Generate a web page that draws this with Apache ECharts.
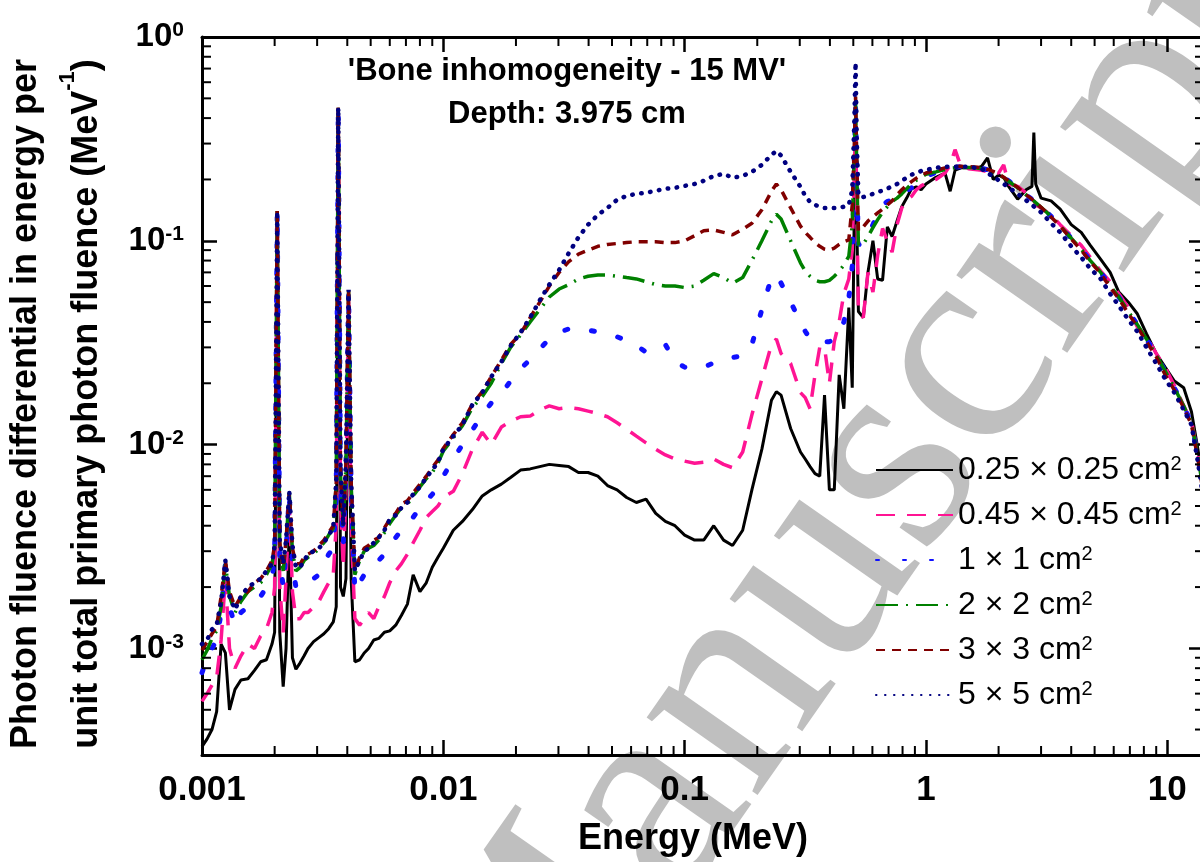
<!DOCTYPE html>
<html>
<head>
<meta charset="utf-8">
<title>Photon fluence spectra – bone inhomogeneity, 15 MV</title>
<script src="https://cdn.jsdelivr.net/npm/echarts@6/dist/echarts.min.js"></script>
<style>
  html, body { margin: 0; padding: 0; background: #ffffff; }
  #chart { width: 1200px; height: 862px; }
</style>
</head>
<body>
<div id="chart"></div>
<script>
const FONT = '"Liberation Sans", Arial, Helvetica, sans-serif';
const SERIF = '"Liberation Serif", "Times New Roman", serif';

// Axis ranges (MeV, MeV^-1)
const X_MIN = 0.001, X_MAX = 14.2;
const Y_MIN = 3e-4, Y_MAX = 1;

// Tick labels for the decades
const xTickLabels = ['0.001', '0.01', '0.1', '1', '10'];        // 10^-3 .. 10^1
const yTickExponents = ['-3', '-2', '-1', '0'];                  // 10^-3 .. 10^0

// Field sizes (legend entries)
const fieldSizes = ['0.25 × 0.25 cm²', '0.45 × 0.45 cm²', '1 × 1 cm²', '2 × 2 cm²', '3 × 3 cm²', '5 × 5 cm²'];

// Energy bin centres (MeV), shared by all field sizes
const energy = [
  0.00100, 0.00105, 0.00110, 0.00115, 0.00120, 0.00125, 0.00130, 0.00137, 0.00145, 0.00155,
  0.00165, 0.00175, 0.00185, 0.00195, 0.00200, 0.00205, 0.00210, 0.00217, 0.00223, 0.00230,
  0.00237, 0.00245, 0.00255, 0.00265, 0.00275, 0.00290, 0.00305, 0.00320, 0.00335, 0.00350,
  0.00360, 0.00367, 0.00375, 0.00385, 0.00395, 0.00405, 0.00415, 0.00430, 0.00450, 0.00470,
  0.00490, 0.00515, 0.00540, 0.00570, 0.00600, 0.00635, 0.00670, 0.00710, 0.00750, 0.00800,
  0.00850, 0.00900, 0.00950, 0.0100, 0.0110, 0.0120, 0.0132, 0.0145, 0.0158, 0.0174,
  0.0190, 0.0209, 0.0229, 0.0251, 0.0275, 0.0302, 0.0331, 0.0363, 0.0398, 0.0437,
  0.0479, 0.0525, 0.0575, 0.0631, 0.0692, 0.0759, 0.0832, 0.0912, 0.100, 0.110,
  0.120, 0.132, 0.145, 0.158, 0.174, 0.190, 0.209, 0.229, 0.240, 0.251,
  0.275, 0.302,
  0.316, 0.331, 0.347, 0.363, 0.380, 0.398, 0.417, 0.437, 0.457, 0.479,
  0.495, 0.505, 0.511, 0.517, 0.525, 0.550, 0.575, 0.603, 0.631, 0.661,
  0.692, 0.724, 0.759, 0.794, 0.832, 0.871, 0.912, 0.955, 1.00, 1.10,
  1.20, 1.26, 1.32, 1.40, 1.50, 1.60, 1.70, 1.80, 1.90, 2.00,
  2.10, 2.20, 2.40, 2.60, 2.75, 2.80, 2.85, 3.00, 3.30, 3.60,
  4.00, 4.40, 4.80, 5.30, 5.80, 6.30, 6.90, 7.50, 8.20, 9.00,
  9.80, 10.7, 11.7, 12.6, 13.4, 14.2, 15.0
];

// Fluence per field size (MeV^-1 per unit primary fluence)
const field025 = [
  0.00033, 0.00036, 0.00040, 0.00049, 0.00105, 0.00095, 0.00050, 0.00063, 0.00070, 0.00071,
  0.00078, 0.00086, 0.00088, 0.00105, 0.0012, 0.12, 0.0012, 0.00065, 0.0010, 0.0040,
  0.00090, 0.00079, 0.00085, 0.00092, 0.00100, 0.00108, 0.00113, 0.00118, 0.00125, 0.00135,
  0.0016, 0.40, 0.0020, 0.0018, 0.0022, 0.050, 0.0022, 0.00086, 0.00088, 0.00095,
  0.0010, 0.00110, 0.00112, 0.00120, 0.00122, 0.00130, 0.00145, 0.00165, 0.0023, 0.0019,
  0.0021, 0.0025, 0.0028, 0.0031, 0.0038, 0.0042, 0.0048, 0.0056, 0.0060, 0.0064,
  0.0069, 0.0075, 0.0076, 0.0078, 0.0080, 0.0079, 0.0078, 0.0073, 0.0073, 0.0070,
  0.0063, 0.0060, 0.0055, 0.0052, 0.0054, 0.0046, 0.0042, 0.0040, 0.0036, 0.0034,
  0.0034, 0.0040, 0.0034, 0.0032, 0.0038, 0.0060, 0.0095, 0.0165, 0.0182, 0.0175,
  0.0120, 0.0092,
  0.0085, 0.0078, 0.0072, 0.0070, 0.0175, 0.0060, 0.0060, 0.0220, 0.0150, 0.0470,
  0.0190, 0.15, 0.35, 0.12, 0.045, 0.042, 0.070, 0.100, 0.065, 0.064,
  0.117, 0.105, 0.125, 0.147, 0.162, 0.180, 0.184, 0.178, 0.190, 0.205,
  0.215, 0.175, 0.222, 0.228, 0.228, 0.225, 0.232, 0.255, 0.200, 0.210,
  0.205, 0.185, 0.160, 0.178, 0.185, 0.340, 0.190, 0.162, 0.157, 0.143,
  0.120, 0.110, 0.095, 0.081, 0.070, 0.056, 0.050, 0.044, 0.035, 0.028,
  0.024, 0.0205, 0.0190, 0.0145, 0.0095, 0.0060, 0.0028
];

const field045 = [
  0.00055, 0.00060, 0.00066, 0.00072, 0.0011, 0.0022, 0.0010, 0.00080, 0.00092, 0.00105,
  0.00100, 0.00115, 0.00125, 0.0015, 0.0020, 0.14, 0.0020, 0.0012, 0.0022, 0.0052,
  0.0019, 0.0014, 0.0014, 0.0015, 0.0015, 0.0016, 0.0017, 0.0019, 0.0021, 0.0023,
  0.0040, 0.45, 0.0050, 0.0025, 0.0060, 0.056, 0.0040, 0.0014, 0.0013, 0.0014,
  0.0015, 0.0014, 0.0016, 0.0018, 0.0021, 0.0024, 0.0026, 0.0029, 0.0033, 0.0038,
  0.0044, 0.0047, 0.0050, 0.0055, 0.0059, 0.0072, 0.0095, 0.0115, 0.0100, 0.0122,
  0.0130, 0.0137, 0.0138, 0.0148, 0.0155, 0.0150, 0.0152, 0.0150, 0.0146, 0.0142,
  0.0137, 0.0128, 0.0119, 0.0110, 0.0102, 0.0095, 0.0089, 0.0085, 0.0083, 0.0081,
  0.0082, 0.0085, 0.0080, 0.0077, 0.0092, 0.0140, 0.0210, 0.0310, 0.0330, 0.0280,
  0.0250, 0.0180,
  0.0170, 0.0150, 0.0220, 0.0300, 0.0300, 0.0200, 0.0320, 0.0400, 0.0550, 0.0650,
  0.090, 0.22, 0.40, 0.15, 0.045, 0.042, 0.070, 0.056, 0.085, 0.115,
  0.100, 0.088, 0.120, 0.145, 0.158, 0.165, 0.178, 0.186, 0.192, 0.200,
  0.215, 0.235, 0.280, 0.230, 0.226, 0.224, 0.222, 0.218, 0.220, 0.215,
  0.236, 0.190, 0.185, 0.172, 0.162, 0.158, 0.150, 0.145, 0.134, 0.120,
  0.106, 0.095, 0.083, 0.071, 0.063, 0.055, 0.047, 0.038, 0.034, 0.028,
  0.024, 0.0195, 0.0155, 0.013, 0.009, 0.0058, 0.0028
];

const field1 = [
  0.00076, 0.00090, 0.00100, 0.00110, 0.0015, 0.0026, 0.0016, 0.0013, 0.0015, 0.0016,
  0.0017, 0.0018, 0.0020, 0.0022, 0.0028, 0.14, 0.0028, 0.0020, 0.0030, 0.0057,
  0.0026, 0.0020, 0.0020, 0.0021, 0.0022, 0.0022, 0.0023, 0.0026, 0.0029, 0.0031,
  0.0055, 0.45, 0.0065, 0.0032, 0.0075, 0.057, 0.0058, 0.0019, 0.0021, 0.0023,
  0.0024, 0.0026, 0.0027, 0.0029, 0.0032, 0.0035, 0.0038, 0.0041, 0.0044, 0.0049,
  0.0053, 0.0057, 0.0062, 0.0070, 0.0085, 0.0100, 0.0118, 0.0140, 0.0160, 0.0178,
  0.0205, 0.0235, 0.0262, 0.0295, 0.0330, 0.0355, 0.0370, 0.0372, 0.0365, 0.0357,
  0.0348, 0.0338, 0.0325, 0.0305, 0.0285, 0.0295, 0.0310, 0.0255, 0.0240, 0.0236,
  0.0240, 0.0252, 0.0262, 0.0268, 0.0272, 0.031, 0.046, 0.066, 0.068, 0.062,
  0.050, 0.040,
  0.036, 0.033, 0.032, 0.032, 0.032, 0.032, 0.033, 0.036, 0.040, 0.052,
  0.075, 0.25, 0.45, 0.20, 0.095, 0.101, 0.106, 0.120, 0.135, 0.150,
  0.156, 0.158, 0.160, 0.168, 0.176, 0.182, 0.192, 0.202, 0.208, 0.216,
  0.225, 0.228, 0.230, 0.231, 0.230, 0.229, 0.227, 0.223, 0.218, 0.212,
  0.205, 0.197, 0.183, 0.168, 0.160, 0.156, 0.154, 0.147, 0.132, 0.118,
  0.103, 0.091, 0.080, 0.070, 0.060, 0.053, 0.045, 0.039, 0.033, 0.0275,
  0.023, 0.019, 0.0155, 0.0127, 0.0087, 0.0056, 0.0027
];

const field2 = [
  0.00088, 0.00098, 0.00112, 0.00122, 0.0016, 0.0026, 0.0018, 0.0015, 0.0017, 0.0019,
  0.0020, 0.0021, 0.0023, 0.0026, 0.0031, 0.14, 0.0032, 0.0024, 0.0033, 0.0058,
  0.0030, 0.0024, 0.0025, 0.0027, 0.0028, 0.0029, 0.0031, 0.0033, 0.0036, 0.0039,
  0.0064, 0.45, 0.0071, 0.0040, 0.0080, 0.057, 0.0064, 0.0023, 0.0027, 0.0030,
  0.0031, 0.0032, 0.0034, 0.0037, 0.0041, 0.0045, 0.0049, 0.0051, 0.0056, 0.0062,
  0.0068, 0.0073, 0.0081, 0.0093, 0.0108, 0.0124, 0.0152, 0.0172, 0.0200, 0.0250,
  0.0300, 0.0345, 0.040, 0.046, 0.053, 0.058, 0.061, 0.065, 0.067, 0.068,
  0.068, 0.067, 0.066, 0.065, 0.063, 0.061, 0.060, 0.060, 0.059, 0.060,
  0.064, 0.069, 0.066, 0.062, 0.066, 0.080, 0.100, 0.125, 0.135, 0.128,
  0.100, 0.078,
  0.071, 0.067, 0.064, 0.063, 0.063, 0.064, 0.067, 0.071, 0.076, 0.084,
  0.12, 0.28, 0.48, 0.22, 0.095, 0.096, 0.105, 0.116, 0.127, 0.138,
  0.147, 0.156, 0.162, 0.170, 0.180, 0.190, 0.198, 0.205, 0.212, 0.218,
  0.224, 0.227, 0.228, 0.229, 0.229, 0.228, 0.226, 0.222, 0.218, 0.212,
  0.204, 0.196, 0.182, 0.168, 0.160, 0.157, 0.154, 0.146, 0.132, 0.118,
  0.103, 0.091, 0.080, 0.070, 0.060, 0.053, 0.045, 0.039, 0.033, 0.0275,
  0.023, 0.019, 0.0155, 0.0128, 0.0088, 0.0056, 0.0027
];

const field3 = [
  0.00098, 0.00108, 0.00118, 0.00128, 0.0018, 0.0027, 0.0019, 0.0016, 0.0018, 0.0019,
  0.0021, 0.0022, 0.0024, 0.0027, 0.0032, 0.14, 0.0033, 0.0025, 0.0034, 0.0058,
  0.0031, 0.0026, 0.0026, 0.0028, 0.0029, 0.0030, 0.0032, 0.0034, 0.0037, 0.0040,
  0.0065, 0.45, 0.0072, 0.0041, 0.0082, 0.057, 0.0066, 0.0024, 0.0028, 0.0031,
  0.0032, 0.0034, 0.0035, 0.0039, 0.0043, 0.0046, 0.0051, 0.0053, 0.0058, 0.0064,
  0.0070, 0.0077, 0.0084, 0.0096, 0.0112, 0.0128, 0.0158, 0.0182, 0.0215, 0.026,
  0.031, 0.035, 0.042, 0.050, 0.060, 0.070, 0.079, 0.086, 0.090, 0.094,
  0.096, 0.097, 0.098, 0.099, 0.099, 0.099, 0.098, 0.098, 0.100, 0.106,
  0.112, 0.113, 0.110, 0.107, 0.114, 0.122, 0.142, 0.175, 0.190, 0.178,
  0.145, 0.118,
  0.110, 0.104, 0.098, 0.094, 0.091, 0.090, 0.092, 0.096, 0.099, 0.101,
  0.15, 0.30, 0.51, 0.25, 0.112, 0.117, 0.125, 0.131, 0.137, 0.143,
  0.150, 0.157, 0.168, 0.178, 0.187, 0.195, 0.203, 0.210, 0.215, 0.222,
  0.228, 0.230, 0.231, 0.232, 0.231, 0.230, 0.228, 0.224, 0.219, 0.213,
  0.205, 0.197, 0.183, 0.168, 0.160, 0.157, 0.154, 0.146, 0.131, 0.118,
  0.102, 0.090, 0.079, 0.069, 0.059, 0.052, 0.044, 0.038, 0.032, 0.027,
  0.022, 0.0185, 0.0152, 0.0125, 0.0085, 0.0055, 0.0026
];

const field5 = [
  0.00105, 0.0011, 0.00124, 0.0013, 0.0017, 0.0027, 0.0018, 0.00155, 0.0018, 0.0020,
  0.0021, 0.0022, 0.0024, 0.0026, 0.0032, 0.14, 0.0034, 0.0026, 0.0034, 0.0059,
  0.0032, 0.0025, 0.0025, 0.0027, 0.0029, 0.0030, 0.0031, 0.0033, 0.0036, 0.0039,
  0.0067, 0.45, 0.0075, 0.0040, 0.0084, 0.0575, 0.0067, 0.0024, 0.0027, 0.0030,
  0.0031, 0.0033, 0.0035, 0.0038, 0.0043, 0.0045, 0.0049, 0.0052, 0.0057, 0.0062,
  0.0069, 0.0075, 0.0082, 0.0095, 0.011, 0.0125, 0.0157, 0.018, 0.0215, 0.0255,
  0.0305, 0.0355, 0.042, 0.051, 0.061, 0.072, 0.087, 0.104, 0.12, 0.134,
  0.145, 0.159, 0.166, 0.17, 0.172, 0.176, 0.18, 0.182, 0.186, 0.19,
  0.197, 0.208, 0.213, 0.204, 0.208, 0.218, 0.236, 0.264, 0.276, 0.262,
  0.218, 0.184,
  0.166, 0.155, 0.150, 0.147, 0.145, 0.145, 0.145, 0.145, 0.147, 0.150,
  0.178, 0.39, 0.75, 0.31, 0.166, 0.164, 0.166, 0.170, 0.174, 0.176,
  0.180, 0.186, 0.190, 0.197, 0.204, 0.211, 0.215, 0.220, 0.223, 0.228,
  0.231, 0.231, 0.231, 0.231, 0.231, 0.228, 0.226, 0.215, 0.207, 0.198,
  0.190, 0.183, 0.170, 0.158, 0.150, 0.147, 0.145, 0.138, 0.122, 0.110,
  0.094, 0.083, 0.073, 0.065, 0.055, 0.048, 0.041, 0.036, 0.030, 0.025,
  0.021, 0.018, 0.0148, 0.0125, 0.0082, 0.0052, 0.0025
];

const fieldValues = [field025, field045, field1, field2, field3, field5];

// Line appearance per field size
const lineStyles = [
  { color: '#000000', width: 3, type: 'solid' },
  { color: '#ff1493', width: 3.5, type: [19, 12] },
  { color: '#1010ff', width: 5, type: [3, 24], cap: 'round' },
  { color: '#008000', width: 3.5, type: [22, 8, 2, 8] },
  { color: '#800000', width: 3.5, type: [9, 7] },
  { color: '#000080', width: 4.5, type: [0.5, 8.5], cap: 'round' }
];

// Minor tick positions for the log axes (2..9 within each decade)
function minorTicks(lo, hi) {
  const out = [];
  for (let e = Math.floor(Math.log10(lo)); e <= Math.ceil(Math.log10(hi)); e++) {
    for (let m = 2; m <= 9; m++) {
      const v = m * Math.pow(10, e);
      if (v > lo * 1.0001 && v < hi * 0.9999) out.push(v);
    }
  }
  return out;
}
const xMinor = minorTicks(X_MIN, X_MAX);
const yMinor = minorTicks(Y_MIN, Y_MAX);
const MINOR_LEN = 9;

function decade(v) {
  const e = Math.log10(v);
  const r = Math.round(e);
  return Math.abs(e - r) < 1e-6 ? r : null;
}

const axisLineStyle = { show: true, onZero: false, lineStyle: { color: '#000', width: 3 } };
const majorTick = { show: true, inside: true, length: 15, lineStyle: { color: '#000', width: 2.5 } };

const chart = echarts.init(document.getElementById('chart'), null, { renderer: 'canvas' });

const option = {
  animation: false,
  backgroundColor: '#ffffff',
  title: {
    text: "'Bone inhomogeneity - 15 MV'\nDepth: 3.975 cm",
    left: 562,
    top: 45,
    textAlign: 'center',
    textStyle: { fontFamily: FONT, fontSize: 31, fontWeight: 'bold', color: '#000', lineHeight: 43 }
  },
  grid: { left: 202, top: 37, right: -4, bottom: 107, containLabel: false, outerBoundsMode: 'none' },
  legend: {
    data: fieldSizes,
    orient: 'vertical',
    left: 870,
    top: 449,
    padding: 5,
    itemWidth: 77,
    itemHeight: 14,
    itemGap: 13,
    selectedMode: false,
    itemStyle: { opacity: 0, borderWidth: 0 },
    formatter: name => name.replace('²', '{s|2}'),
    textStyle: {
      fontFamily: FONT, fontSize: 32, color: '#000', lineHeight: 32,
      rich: { s: { fontFamily: FONT, fontSize: 20, color: '#000', lineHeight: 7, verticalAlign: 'top' } }
    }
  },
  xAxis: [
    {
      type: 'log', logBase: 10, min: X_MIN, max: X_MAX, position: 'bottom',
      axisLine: axisLineStyle, axisTick: majorTick, splitLine: { show: false },
      axisLabel: {
        margin: 18, interval: 0, showMinLabel: true, showMaxLabel: true,
        fontFamily: FONT, fontSize: 35, fontWeight: 'bold', color: '#000',
        formatter: v => { const r = decade(v); return r === null ? '' : (xTickLabels[r + 3] || ''); }
      },
      name: 'Energy (MeV)',
      nameLocation: 'middle',
      nameGap: 66,
      nameTextStyle: { fontFamily: FONT, fontSize: 36, fontWeight: 'bold', color: '#000', lineHeight: 36, padding: [0, 20, 0, 0] }
    },
    {
      type: 'log', logBase: 10, min: X_MIN, max: X_MAX, position: 'top',
      axisLine: axisLineStyle, axisTick: majorTick, splitLine: { show: false },
      axisLabel: { show: false }
    }
  ],
  yAxis: [
    {
      type: 'log', logBase: 10, min: Y_MIN, max: Y_MAX, position: 'left',
      axisLine: axisLineStyle, axisTick: majorTick, splitLine: { show: false },
      axisLabel: {
        margin: 18, interval: 0, showMinLabel: true, showMaxLabel: true,
        formatter: v => { const r = decade(v); return r === null ? '' : '{b|10}{s|' + yTickExponents[r + 3] + '}'; },
        rich: {
          b: { fontFamily: FONT, fontSize: 33, fontWeight: 'bold', color: '#000', lineHeight: 34 },
          s: { fontFamily: FONT, fontSize: 21, fontWeight: 'bold', color: '#000', lineHeight: 5, verticalAlign: 'top' }
        }
      },
      name: 'Photon fluence differential in energy per\nunit total primary photon fluence (MeV{s|-1})',
      nameLocation: 'middle',
      nameRotate: 90,
      nameGap: 80,
      nameTextStyle: {
        fontFamily: FONT, fontSize: 36, fontWeight: 'bold', color: '#000', lineHeight: 61, padding: [0, 16, 0, 0],
        rich: { s: { fontFamily: FONT, fontSize: 22, fontWeight: 'bold', color: '#000', lineHeight: 28, verticalAlign: 'top' } }
      }
    },
    {
      type: 'log', logBase: 10, min: Y_MIN, max: Y_MAX, position: 'right',
      axisLine: axisLineStyle, axisTick: majorTick, splitLine: { show: false },
      axisLabel: { show: false }
    }
  ],
  graphic: [
    {
      type: 'text',
      x: 850,
      y: 528,
      rotation: 55 * Math.PI / 180,
      z: -10,
      silent: true,
      style: { text: 'Manuscript', fontFamily: SERIF, fontSize: 295, fill: '#bfbfbf', textAlign: 'center', textVerticalAlign: 'middle' }
    }
  ],
  series: fieldSizes.map((name, i) => ({
    name,
    type: 'line',
    xAxisIndex: 0,
    yAxisIndex: 0,
    data: energy.map((e, k) => [e, fieldValues[i][k]]),
    symbol: 'none',
    showSymbol: false,
    clip: true,
    z: 2 + i,
    itemStyle: { color: lineStyles[i].color },
    lineStyle: lineStyles[i],
    emphasis: { disabled: true }
  })).concat([{
    // minor ticks on all four sides of the frame
    type: 'custom',
    xAxisIndex: 0,
    yAxisIndex: 0,
    silent: true,
    z: 10,
    data: [[X_MIN, Y_MIN]],
    renderItem: (params, api) => {
      const cs = params.coordSys;
      const left = cs.x, right = cs.x + cs.width, top = cs.y, bottom = cs.y + cs.height;
      const st = { stroke: '#000', lineWidth: 2 };
      const children = [];
      xMinor.forEach(v => {
        const px = api.coord([v, Y_MIN])[0];
        children.push({ type: 'line', shape: { x1: px, y1: bottom, x2: px, y2: bottom - MINOR_LEN }, style: st });
        children.push({ type: 'line', shape: { x1: px, y1: top, x2: px, y2: top + MINOR_LEN }, style: st });
      });
      yMinor.forEach(v => {
        const py = api.coord([X_MIN, v])[1];
        children.push({ type: 'line', shape: { x1: left, y1: py, x2: left + MINOR_LEN, y2: py }, style: st });
        children.push({ type: 'line', shape: { x1: right, y1: py, x2: right - MINOR_LEN, y2: py }, style: st });
      });
      return { type: 'group', children };
    }
  }])
};

chart.setOption(option);
</script>
</body>
</html>
